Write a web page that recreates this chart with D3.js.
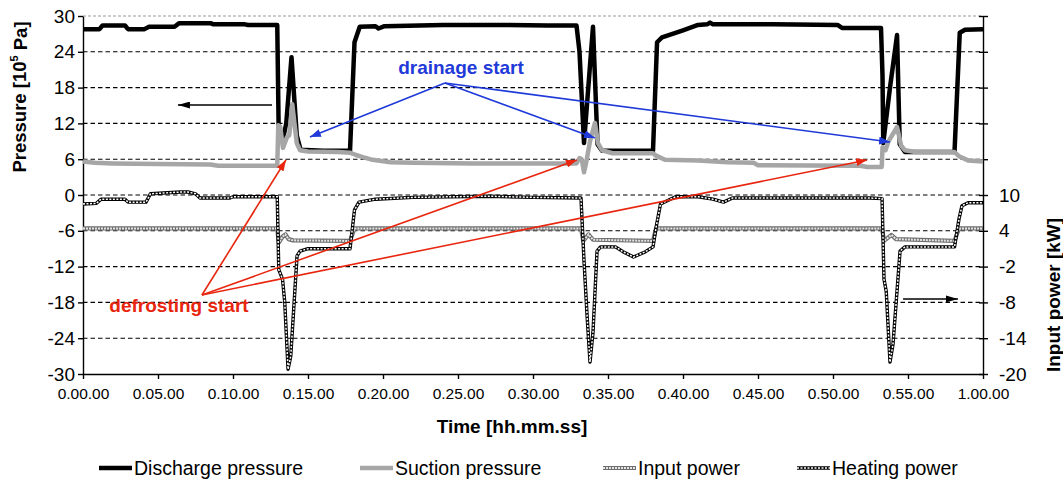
<!DOCTYPE html>
<html>
<head>
<meta charset="utf-8">
<script src="https://cdn.jsdelivr.net/npm/d3@7"></script>
<style>
	body { margin: 0; background: #fff; }
	svg { font-family: "Liberation Sans", Arial, sans-serif; }
</style>
</head>
<body>
<div id="chart"></div>
<script>
// time in minutes, pressure in 10^5 Pa, power in kW
const timeTicks = d3.range(0, 61, 5);
const pressureTicks = d3.range(-30, 31, 6);
const powerTicks = d3.range(-20, 41, 6);

const dischargePressure = [
	[0, 27.8], [1.1, 27.8], [1.3, 28.4], [2.8, 28.4], [3.0, 27.8], [4.1, 27.8], [4.4, 28.2],
	[6.1, 28.2], [6.4, 28.8], [8.5, 28.8], [8.7, 28.6], [10.8, 28.6], [11.0, 28.5], [12.95, 28.5],
	[13.05, 10.0], [13.35, 9.6], [13.55, 12], [13.9, 23.1], [14.25, 10], [14.5, 7.6], [16.0, 7.4],
	[17.8, 7.4], [18.1, 25.6], [18.45, 28.2], [19.5, 28.3], [19.7, 27.9], [20.1, 28.3], [24, 28.5],
	[28, 28.5], [31, 28.4], [32.9, 28.4], [33.1, 24], [33.4, 8.7], [34.0, 28.2], [34.3, 8.5],
	[34.6, 7.4], [38.0, 7.4], [38.27, 25.6], [38.6, 26.4], [39.3, 27.0], [40.0, 27.6], [41.0, 28.5],
	[41.6, 28.6], [41.8, 28.9], [42.0, 28.6], [46, 28.6], [50.3, 28.5], [50.6, 28.0], [53.2, 28.0],
	[53.3, 20], [53.35, 8.7], [53.8, 18], [54.27, 26.8], [54.45, 8.5], [54.8, 7.2], [58.1, 7.2],
	[58.45, 27.2], [58.8, 27.7], [60, 27.8]
];

const suctionPressure = [
	[0, 5.6], [0.8, 5.4], [2, 5.3], [5, 5.2], [8.5, 5.1], [9, 4.9], [12.95, 4.9], [13.02, 11.7],
	[13.15, 11.4], [13.33, 7.9], [13.6, 9.7], [13.75, 10], [13.95, 15.2], [14.25, 8.7], [14.47, 7.5],
	[15, 7.3], [17, 7.2], [17.8, 7.1], [18.2, 6.7], [18.6, 6.4], [19.3, 5.9], [20.5, 5.5], [22, 5.4],
	[26, 5.3], [32.9, 5.3], [33.1, 6.2], [33.25, 6.0], [33.4, 3.8], [33.55, 5.5], [33.8, 9],
	[34.13, 12.1], [34.33, 8.7], [34.6, 7.5], [35.3, 7.0], [38.0, 7.0], [38.2, 6.6], [38.8, 5.9],
	[41, 5.8], [43, 5.5], [44.7, 5.4], [45, 5.0], [51.8, 4.9], [52.3, 4.7], [53.25, 4.7], [53.3, 8.0],
	[53.5, 7.5], [53.7, 9.0], [54.27, 11.4], [54.55, 8.2], [54.8, 7.5], [55.5, 7.2], [58.1, 7.2],
	[58.4, 6.5], [59, 5.8], [60, 5.6]
];

const inputPower = [
	[0, 4.4], [12.95, 4.4], [13.05, 2.0], [13.3, 3.0], [13.5, 3.4], [13.7, 2.6], [14.0, 2.4],
	[17.8, 2.3], [18.1, 4.4], [33.2, 4.4], [33.35, 2.3], [33.7, 3.4], [34.0, 2.5], [38.0, 2.3],
	[38.2, 4.4], [53.27, 4.4], [53.4, 2.3], [53.9, 3.3], [54.2, 2.6], [58.1, 2.3], [58.4, 4.4], [60, 4.4]
];

const heatingPower = [
	[0, 8.5], [0.9, 8.6], [1.2, 9.3], [2.8, 9.3], [3.0, 8.8], [4.2, 8.8], [4.5, 10.2], [6.5, 10.5],
	[7.0, 10.5], [7.5, 10.2], [7.8, 9.5], [9.8, 9.5], [10.0, 9.7], [12.95, 9.7], [13.05, -2.5],
	[13.3, -4.1], [13.45, -8], [13.67, -19.2], [13.85, -17], [14.27, -0.2], [14.47, 0.6], [15, 1.0],
	[17.8, 1.0], [18.1, 7.5], [18.4, 8.8], [19.5, 9.3], [22, 9.6], [27, 9.8], [30, 9.6], [33.2, 9.5],
	[33.4, -1], [33.6, -10], [33.8, -18.0], [34.0, -13], [34.27, 0.6], [34.5, 1.3], [35.5, 1.3],
	[36.0, 0.5], [36.7, -0.4], [37.5, 0.5], [38.0, 1.3], [38.2, 4.5], [38.5, 8.5], [39.5, 9.7],
	[41, 9.7], [42, 9.3], [42.7, 8.8], [43.3, 9.5], [52.5, 9.5], [53.27, 9.4], [53.4, -4.1],
	[53.55, -6.2], [53.8, -18.0], [54.0, -15], [54.47, 0.6], [54.8, 1.3], [58.1, 1.3], [58.4, 6],
	[58.6, 8.2], [59, 8.7], [60, 8.7]
];

// annotation anchors, in (time, left axis pressure)
const drainageFrom = [24.13, 18.77];
const drainageTo = [[15.13, 9.72], [34.13, 9.55], [53.8, 8.88]];
const defrostFrom = [7.93, -16.76];
const defrostTo = [[13.53, 5.87], [32.93, 5.87], [52.27, 5.87]];
const leftArrow = [[12.6, 15.08], [6.33, 15.08]];
const rightArrow = [[54.67, -17.43], [58.33, -17.43]];

const legendItems = ["Discharge pressure", "Suction pressure", "Input power", "Heating power"];

const W = 1063, H = 484;
const svg = d3.select("#chart").append("svg").attr("width", W).attr("height", H);

const x = d3.scaleLinear().domain([0, 60]).range([83, 983]);
const yL = d3.scaleLinear().domain([-30, 30]).range([374, 16]);
const yR = d3.scaleLinear().domain([-20, 40]).range([374, 16]);

const defs = svg.append("defs");
function marker(id, color, len, wid) {
	defs.append("marker")
		.attr("id", id)
		.attr("markerUnits", "userSpaceOnUse")
		.attr("viewBox", `0 0 ${len} ${wid}`)
		.attr("refX", len).attr("refY", wid / 2)
		.attr("markerWidth", len).attr("markerHeight", wid)
		.attr("orient", "auto")
		.append("path")
		.attr("d", `M0,0L${len},${wid / 2}L0,${wid}Z`)
		.attr("fill", color);
}
marker("ahBlue", "#1f3ad8", 11, 8);
marker("ahRed", "#e8260f", 11, 8);
marker("ahBlack", "#000", 12, 7);

// grid
svg.append("g")
	.selectAll("line")
	.data(pressureTicks.filter((d) => d > -30))
	.join("line")
	.attr("x1", x(0)).attr("x2", x(60))
	.attr("y1", (d) => yL(d)).attr("y2", (d) => yL(d))
	.attr("stroke", (d) => (d === 30 ? "#999" : "#000"))
	.attr("stroke-width", (d) => (d === 30 ? 1.2 : 1.1))
	.attr("stroke-dasharray", (d) => (d === 30 ? "3,2" : "4.5,3"));

// axes
const axL = svg.append("g")
	.attr("transform", `translate(${x(0)},0)`)
	.call(d3.axisLeft(yL).tickValues(pressureTicks).tickSize(5).tickSizeOuter(0).tickPadding(3).tickFormat((d) => String(d)));
axL.selectAll("text").attr("font-size", 19).attr("font-family", null).attr("fill", "#000");

const axR = svg.append("g")
	.attr("transform", `translate(${x(60)},0)`)
	.call(d3.axisRight(yR).tickValues(powerTicks).tickSize(5).tickSizeOuter(0).tickPadding(11).tickFormat((d) => (d <= 10 ? String(d) : "")));
axR.selectAll(".tick line").attr("x1", -4);
axR.selectAll("text").attr("font-size", 19).attr("font-family", null).attr("fill", "#000");

const axB = svg.append("g")
	.attr("transform", `translate(0,${yL(-30)})`)
	.call(d3.axisBottom(x).tickValues(timeTicks).tickSize(5).tickSizeOuter(0).tickPadding(9)
		.tickFormat((d) => (d === 60 ? "1.00.00" : "0." + String(d).padStart(2, "0") + ".00")));
axB.selectAll("text").attr("font-size", 15.5).attr("font-family", null).attr("fill", "#000");
[axL, axR, axB].forEach((a) => a.selectAll("path, line").attr("stroke", "#000").attr("stroke-width", 1.4));

// series
const lineL = d3.line().x((d) => x(d[0])).y((d) => yL(d[1]));
const lineR = d3.line().x((d) => x(d[0])).y((d) => yR(d[1]));

svg.append("path").datum(dischargePressure).attr("d", lineL)
	.attr("fill", "none").attr("stroke", "#000").attr("stroke-width", 4.5).attr("stroke-linejoin", "round");
svg.append("path").datum(suctionPressure).attr("d", lineL)
	.attr("fill", "none").attr("stroke", "#a6a6a6").attr("stroke-width", 4.5).attr("stroke-linejoin", "round");

function inputStyle(sel) {
	sel.append("path").attr("fill", "none").attr("stroke", "#6e6e6e").attr("stroke-width", 4.2).attr("stroke-linejoin", "round");
	sel.append("path").attr("fill", "none").attr("stroke", "#e6e6e6").attr("stroke-width", 2).attr("stroke-dasharray", "2,1");
}
function heatingStyle(sel) {
	sel.append("path").attr("fill", "none").attr("stroke", "#000").attr("stroke-width", 3.4).attr("stroke-linejoin", "round");
	sel.append("path").attr("fill", "none").attr("stroke", "#fff").attr("stroke-width", 1.5).attr("stroke-dasharray", "2,1.5");
}
const gIn = svg.append("g").call(inputStyle);
gIn.selectAll("path").attr("d", lineR(inputPower));
const gHeat = svg.append("g").call(heatingStyle);
gHeat.selectAll("path").attr("d", lineR(heatingPower));

// annotations
const ann = svg.append("g");
const pt = (d) => [x(d[0]), yL(d[1])];
ann.selectAll(".drain").data(drainageTo).join("line")
	.attr("x1", pt(drainageFrom)[0]).attr("y1", pt(drainageFrom)[1])
	.attr("x2", (d) => pt(d)[0]).attr("y2", (d) => pt(d)[1])
	.attr("stroke", "#1f3ad8").attr("stroke-width", 1.6).attr("marker-end", "url(#ahBlue)");
ann.selectAll(".defrost").data(defrostTo).join("line")
	.attr("x1", pt(defrostFrom)[0]).attr("y1", pt(defrostFrom)[1])
	.attr("x2", (d) => pt(d)[0]).attr("y2", (d) => pt(d)[1])
	.attr("stroke", "#e8260f").attr("stroke-width", 1.6).attr("marker-end", "url(#ahRed)");
[leftArrow, rightArrow].forEach((a) => {
	ann.append("line")
		.attr("x1", pt(a[0])[0]).attr("y1", pt(a[0])[1])
		.attr("x2", pt(a[1])[0]).attr("y2", pt(a[1])[1])
		.attr("stroke", "#000").attr("stroke-width", 1.6).attr("marker-end", "url(#ahBlack)");
});
ann.append("text").attr("x", x(25.2)).attr("y", yL(21.45)).attr("dy", "0.35em")
	.attr("text-anchor", "middle").attr("font-size", 19).attr("font-weight", "bold")
	.attr("fill", "#1f3ad8").text("drainage start");
ann.append("text").attr("x", x(6.4)).attr("y", yL(-18.43)).attr("dy", "0.35em")
	.attr("text-anchor", "middle").attr("font-size", 19).attr("font-weight", "bold")
	.attr("fill", "#e8260f").text("defrosting start");

// axis titles
const tl = svg.append("text").attr("transform", "translate(20,97) rotate(-90)").attr("dy", "0.35em")
	.attr("text-anchor", "middle").attr("font-size", 18.5).attr("font-weight", "bold");
tl.append("tspan").text("Pressure [10");
tl.append("tspan").attr("font-size", 11).attr("dy", "-0.75em").text("5");
tl.append("tspan").attr("dy", "0.5em").text(" Pa]");
svg.append("text").attr("transform", "translate(1053,295) rotate(-90)").attr("dy", "0.35em")
	.attr("text-anchor", "middle").attr("font-size", 19).attr("font-weight", "bold").text("Input power [kW]");
svg.append("text").attr("x", 512).attr("y", 433).attr("text-anchor", "middle")
	.attr("font-size", 19).attr("font-weight", "bold").text("Time [hh.mm.ss]");

// legend
const legX = [99, 360, 603, 797];
const leg = svg.append("g").attr("transform", "translate(0,468)");
legendItems.forEach((name, i) => {
	const g = leg.append("g").attr("transform", `translate(${legX[i]},0)`);
	if (i < 2) {
		g.append("line").attr("x1", 0).attr("x2", 33).attr("stroke", i === 0 ? "#000" : "#a6a6a6").attr("stroke-width", 4.5);
	} else {
		const s = g.append("g").call(i === 2 ? inputStyle : heatingStyle);
		s.selectAll("path").attr("d", "M0,0H33");
	}
	g.append("text").attr("x", 35).attr("dy", "0.35em").attr("font-size", 19.5).text(name);
});
</script>
</body>
</html>
